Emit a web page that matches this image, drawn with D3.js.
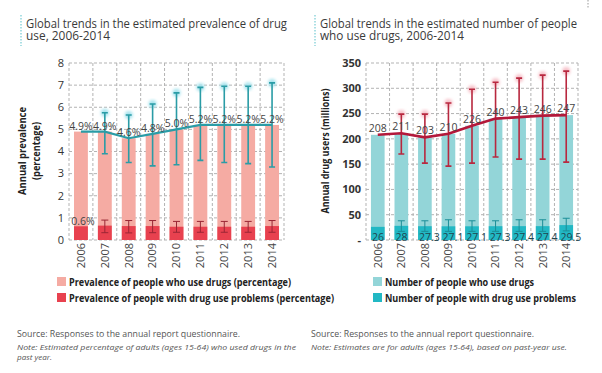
<!DOCTYPE html>
<meta charset="utf-8">
<style>
body { margin: 0; background: #fff; }
svg { font-family: "Open Sans", "Noto Sans", sans-serif; }
.title { font-size: 12px; fill: #3a3a3a; }
.grid line { stroke: #b3b3b3; stroke-dasharray: 3,2; stroke-width: 1; }
.tick-label { font-size: 11px; fill: #333; }
.year-label { font-size: 11px; fill: #444; }
.value-label { font-size: 10.5px; fill: #444; }
.axis-title { font-size: 10.5px; font-weight: bold; fill: #222; }
.legend-text { font-size: 10.5px; font-weight: bold; fill: #222; }
.source { font-size: 9px; fill: #555; }
.note { font-size: 8px; font-style: italic; fill: #555; }
</style>
<body>
<script src="https://cdn.jsdelivr.net/npm/d3@7"></script>
<script>

var years = ["2006", "2007", "2008", "2009", "2010", "2011", "2012", "2013", "2014"];

// left chart: prevalence (%)
var prevalence = [4.9, 4.9, 4.6, 4.8, 5.0, 5.2, 5.2, 5.2, 5.2];
var prevalenceLow = [null, 3.9, 3.5, 3.35, 3.4, 3.6, 3.5, 3.45, 3.3];
var prevalenceHigh = [null, 5.75, 5.65, 6.15, 6.65, 6.9, 6.95, 6.95, 7.1];
var problemPrev = [0.62, 0.65, 0.63, 0.63, 0.6, 0.6, 0.6, 0.6, 0.63];
var problemPrevLow = [null, 0.33, 0.32, 0.33, 0.35, 0.35, 0.35, 0.35, 0.35];
var problemPrevHigh = [null, 0.9, 0.88, 0.88, 0.84, 0.84, 0.84, 0.84, 0.88];
var prevTicks = [0, 1, 2, 3, 4, 5, 6, 7, 8];

// right chart: number of users (millions)
var users = [208, 211, 203, 210, 226, 240, 243, 246, 247];
var usersLow = [null, 170, 152, 146, 152, 164, 160, 160, 154];
var usersHigh = [null, 249, 249, 271, 298, 312, 320, 326, 334];
var problemUsers = [26, 28, 27.3, 27.1, 27.1, 27.3, 27.4, 27.4, 29.5];
var problemUsersLow = [null, 17, 17, 17, 17, 17, 17, 17, 18];
var problemUsersHigh = [null, 38, 38, 40, 38, 38, 40, 40, 43];
var userTicks = [0, 50, 100, 150, 200, 250, 300, 350];

var width = 602, height = 373;

var svg = d3.select("body").append("svg")
    .attr("width", width)
    .attr("height", height);

var defs = svg.append("defs");
defs.append("filter").attr("id", "glow")
    .attr("x", "-100%").attr("y", "-20%").attr("width", "300%").attr("height", "140%")
  .append("feGaussianBlur").attr("stdDeviation", 1.6);

// the original face is a narrow one, so squeeze long texts to their measured width
function squeeze(sel, w) {
    sel.attr("textLength", w).attr("lengthAdjust", "spacingAndGlyphs");
}

function drawPanel(cfg) {
    var g = svg.append("g");

    // title with dotted marker
    g.append("line")
        .attr("x1", cfg.titleX - 5).attr("x2", cfg.titleX - 5)
        .attr("y1", 15).attr("y2", 46)
        .attr("stroke", "#7fcfd6").attr("stroke-width", 1.3)
        .attr("stroke-dasharray", "1.5,1.5");
    cfg.title.forEach(function(t, i) {
        g.append("text").attr("class", "title")
            .attr("x", cfg.titleX)
            .attr("y", 27.5 + i * 12.5)
            .text(t)
            .call(squeeze, cfg.titleW[i]);
    });

    var x = d3.scaleBand()
        .domain(years)
        .range([cfg.x0, cfg.x1])
        .paddingInner(0.42)
        .paddingOuter(0.21);
    var y = d3.scaleLinear()
        .domain([0, cfg.max])
        .range([240, 63]);
    var step = x.step();

    // dashed grid
    var grid = g.append("g").attr("class", "grid");
    grid.selectAll(".h").data(cfg.ticks).enter()
        .append("line")
        .attr("x1", cfg.x0).attr("x2", cfg.x1)
        .attr("y1", function(d) { return y(d); })
        .attr("y2", function(d) { return y(d); });
    grid.selectAll(".v").data(d3.range(0, years.length + 1)).enter()
        .append("line")
        .attr("x1", function(d) { return cfg.x0 + d * step; })
        .attr("x2", function(d) { return cfg.x0 + d * step; })
        .attr("y1", y(cfg.max)).attr("y2", y(0));

    // y tick labels
    g.selectAll(".tick-label").data(cfg.ticks).enter()
        .append("text").attr("class", "tick-label")
        .attr("x", cfg.x0 - 5)
        .attr("y", function(d) { return y(d); })
        .attr("dy", "0.35em")
        .attr("text-anchor", "end")
        .style("font-weight", cfg.boldTicks ? "bold" : "normal")
        .text(cfg.tickFormat);

    // axis title
    cfg.axisTitle.forEach(function(t, i) {
        g.append("text").attr("class", "axis-title")
            .attr("transform", "translate(" + (cfg.axisTitleX + i * 14) + ",151) rotate(-90)")
            .attr("text-anchor", "middle")
            .text(t)
            .call(squeeze, cfg.axisTitleW[i]);
    });

    // main bars
    g.selectAll(".bar-main").data(cfg.main).enter()
        .append("rect")
        .attr("x", function(d, i) { return x(years[i]); })
        .attr("width", x.bandwidth())
        .attr("y", function(d) { return y(d); })
        .attr("height", function(d) { return y(0) - y(d); })
        .attr("fill", cfg.mainColor);

    // problem bars
    g.selectAll(".bar-prob").data(cfg.prob).enter()
        .append("rect")
        .attr("x", function(d, i) { return x(years[i]); })
        .attr("width", x.bandwidth())
        .attr("y", function(d) { return y(d); })
        .attr("height", function(d) { return y(0) - y(d); })
        .attr("fill", cfg.probColor);

    // error bars helper
    function errorBars(lo, hi, color, halo, capW, sw) {
        var data = years.map(function(yr, i) {
            return { cx: x(yr) + x.bandwidth() / 2, lo: lo[i], hi: hi[i] };
        }).filter(function(d) { return d.lo != null; });
        var eg = g.append("g");
        if (halo) {
            eg.selectAll(".halo").data(data).enter()
                .append("line")
                .attr("x1", function(d) { return d.cx; })
                .attr("x2", function(d) { return d.cx; })
                .attr("y1", function(d) { return y(d.lo); })
                .attr("y2", function(d) { return y(d.hi); })
                .attr("stroke", halo).attr("stroke-width", 4)
                .attr("filter", "url(#glow)");
            eg.selectAll(".halo-cap").data(data).enter()
                .append("circle")
                .attr("cx", function(d) { return d.cx; })
                .attr("cy", function(d) { return y(d.hi); })
                .attr("r", 4)
                .attr("fill", halo)
                .attr("filter", "url(#glow)");
        }
        eg.selectAll(".err").data(data).enter()
            .append("path")
            .attr("d", function(d) {
                var a = y(d.lo), b = y(d.hi), h = capW / 2;
                return "M" + d.cx + "," + a + "V" + b +
                    "M" + (d.cx - h) + "," + a + "H" + (d.cx + h) +
                    "M" + (d.cx - h) + "," + b + "H" + (d.cx + h);
            })
            .attr("fill", "none")
            .attr("stroke", color)
            .attr("stroke-width", sw);
    }

    errorBars(cfg.probLow, cfg.probHigh, cfg.probErrColor, null, 7, 1);
    errorBars(cfg.mainLow, cfg.mainHigh, cfg.errColor, cfg.haloColor, 6, 1.6);

    // trend line
    var line = d3.line()
        .x(function(d, i) { return x(years[i]) + x.bandwidth() / 2; })
        .y(function(d) { return y(d); });
    g.append("path")
        .datum(cfg.main)
        .attr("d", line)
        .attr("fill", "none")
        .attr("stroke", cfg.lineColor)
        .attr("stroke-width", cfg.lineWidth);

    // value labels on the line
    g.selectAll(".value-label.main").data(cfg.main).enter()
        .append("text").attr("class", "value-label")
        .attr("x", function(d, i) { return x(years[i]) + x.bandwidth() / 2; })
        .attr("y", function(d) { return y(d) - cfg.labelGap; })
        .attr("text-anchor", "middle")
        .text(cfg.mainFormat);

    // year labels
    g.selectAll(".year-label").data(years).enter()
        .append("text").attr("class", "year-label")
        .attr("transform", function(d) {
            return "translate(" + (x(d) + x.bandwidth() / 2) + ",243) rotate(-90)";
        })
        .attr("dy", "0.35em")
        .attr("text-anchor", "end")
        .text(function(d) { return d; });

    // legend
    cfg.legend.forEach(function(t, i) {
        var lg = g.append("g")
            .attr("transform", "translate(" + cfg.legendX + "," + (277 + i * 16) + ")");
        lg.append("rect")
            .attr("width", 9).attr("height", 9)
            .attr("fill", i === 0 ? cfg.mainColor : cfg.probColor);
        lg.append("text").attr("class", "legend-text")
            .attr("x", 12).attr("y", 8.5)
            .text(t)
            .call(squeeze, cfg.legendW[i]);
    });

    // source and notes
    g.append("text").attr("class", "source")
        .attr("x", cfg.sourceX).attr("y", 337)
        .text("Source: Responses to the annual report questionnaire.")
        .call(squeeze, 223);
    cfg.note.forEach(function(t, i) {
        g.append("text").attr("class", "note")
            .attr("x", cfg.sourceX)
            .attr("y", 350 + i * 9.5)
            .text(t)
            .call(squeeze, cfg.noteW[i]);
    });

    return { g: g, x: x, y: y };
}

var left = drawPanel({
    title: ["Global trends in the estimated prevalence of drug", "use, 2006-2014"],
    titleW: [261, 84],
    titleX: 26,
    x0: 69, x1: 284, max: 8,
    ticks: prevTicks,
    tickFormat: function(d) { return d; },
    boldTicks: false,
    axisTitle: ["Annual prevalence", "(percentage)"],
    axisTitleW: [88, 58],
    axisTitleX: 26,
    main: prevalence, mainLow: prevalenceLow, mainHigh: prevalenceHigh,
    prob: problemPrev, probLow: problemPrevLow, probHigh: problemPrevHigh,
    mainColor: "#f5aba3", probColor: "#e8414f",
    errColor: "#2a9ca6", haloColor: "#a8e4ee", probErrColor: "#9a2634",
    lineColor: "#2a9ca6", lineWidth: 2.2,
    labelGap: 2,
    mainFormat: function(d) { return d.toFixed(1) + "%"; },
    legend: ["Prevalence of people who use drugs (percentage)",
             "Prevalence of people with drug use problems (percentage)"],
    legendW: [222, 265],
    legendX: 57,
    sourceX: 17,
    note: ["Note: Estimated percentage of adults (ages 15-64) who used drugs in the", "past year."],
    noteW: [279, 35]
});

// problem prevalence label (only first year)
left.g.append("text").attr("class", "value-label")
    .attr("x", left.x(years[0]) + left.x.bandwidth() / 2 + 2)
    .attr("y", left.y(problemPrev[0]) - 1)
    .attr("text-anchor", "middle")
    .text(problemPrev[0].toFixed(1) + "%");

var right = drawPanel({
    title: ["Global trends in the estimated number of people", "who use drugs, 2006-2014"],
    titleW: [257, 144],
    titleX: 320,
    x0: 366, x1: 578, max: 350,
    ticks: userTicks,
    tickFormat: function(d) { return d === 0 ? "-" : d; },
    boldTicks: true,
    axisTitle: ["Annual drug users (millions)"],
    axisTitleW: [125],
    axisTitleX: 329,
    main: users, mainLow: usersLow, mainHigh: usersHigh,
    prob: problemUsers, probLow: problemUsersLow, probHigh: problemUsersHigh,
    mainColor: "#93d5d8", probColor: "#22b8c4",
    errColor: "#b8283f", haloColor: "#f7c3cb", probErrColor: "#1b8e98",
    lineColor: "#b3183a", lineWidth: 2.6,
    labelGap: 3,
    mainFormat: function(d) { return d; },
    legend: ["Number of people who use drugs", "Number of people with drug use problems"],
    legendW: [149, 191],
    legendX: 373,
    sourceX: 311,
    note: ["Note: Estimates are for adults (ages 15-64), based on past-year use."],
    noteW: [256]
});

// problem user counts written at the bar foot
right.g.selectAll(".prob-label").data(problemUsers).enter()
    .append("text").attr("class", "value-label")
    .attr("x", function(d, i) { return right.x(years[i]) + 1; })
    .attr("y", 240.5)
    .style("fill", "#1f4650")
    .text(function(d) { return d; });

// small dotted marker, top right
svg.append("line")
    .attr("x1", 588).attr("x2", 588).attr("y1", 0).attr("y2", 9)
    .attr("stroke", "#9a9a9a").attr("stroke-dasharray", "1.5,1.5");

</script>
